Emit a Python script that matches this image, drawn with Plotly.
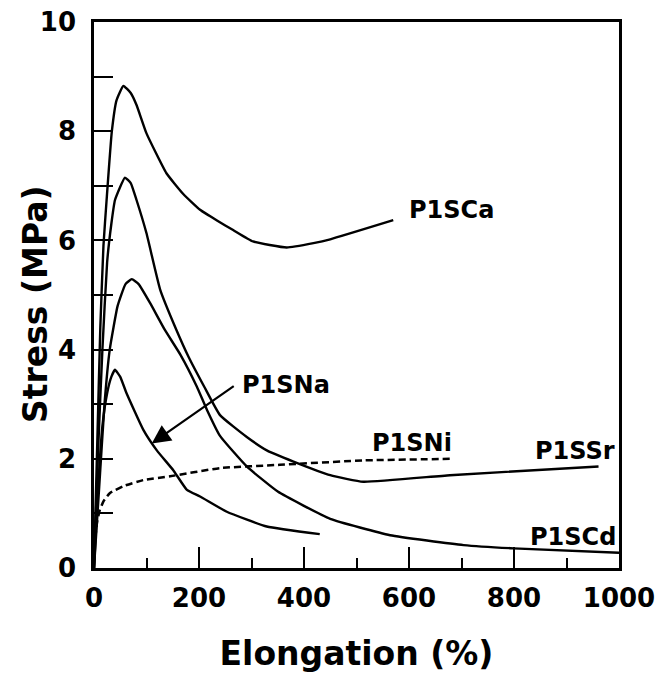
import plotly.graph_objects as go

# ---- data ----
sca_x = [0, 6, 12, 18, 24, 34, 43, 56, 70, 81, 100, 138, 170, 202, 235, 265, 303, 367, 418, 450, 570]
sca_y = [0, 2.2, 4.4, 5.9, 6.74, 8.0, 8.57, 8.83, 8.7, 8.48, 7.96, 7.23, 6.85, 6.56, 6.36, 6.19, 5.98, 5.87, 5.95, 6.02, 6.37]

ssr_x = [0, 8, 16, 25, 33, 40, 59, 70, 81, 100, 126, 157, 180, 210, 240, 291, 330, 380, 450, 513, 678, 961]
ssr_y = [0, 2.2, 4.0, 5.6, 6.3, 6.74, 7.15, 7.05, 6.74, 6.13, 5.1, 4.36, 3.87, 3.32, 2.80, 2.40, 2.15, 1.95, 1.70, 1.58, 1.70, 1.86]

scd_x = [0, 10, 20, 30, 45, 60, 72, 85, 107, 135, 165, 196, 215, 240, 291, 350, 450, 564, 704, 799, 1000]
scd_y = [0, 1.5, 3.0, 4.0, 4.8, 5.2, 5.29, 5.2, 4.85, 4.36, 3.90, 3.32, 2.90, 2.42, 1.86, 1.4, 0.9, 0.6, 0.42, 0.36, 0.28]

sna_x = [0, 8, 16, 25, 33, 40, 50, 62, 94, 120, 151, 177, 202, 253, 329, 430]
sna_y = [0, 1.5, 2.6, 3.2, 3.5, 3.63, 3.5, 3.2, 2.53, 2.15, 1.79, 1.43, 1.31, 1.03, 0.76, 0.62]

sni_x = [0, 3, 6, 11, 18, 30, 56, 94, 145, 240, 354, 513, 685]
sni_y = [0.35, 0.6, 0.85, 1.06, 1.22, 1.37, 1.5, 1.61, 1.68, 1.83, 1.89, 1.97, 2.0]

x_ticks = [0, 200, 400, 600, 800, 1000]
y_ticks = [0, 2, 4, 6, 8, 10]

labels = ["P1SCa", "P1SNa", "P1SNi", "P1SSr", "P1SCd"]
label_x = [596, 278, 526, 836, 827]
label_y = [6.56, 3.35, 2.29, 2.14, 0.57]

x_title = "Elongation (%)"
y_title = "Stress (MPa)"

FONT = "DejaVu Sans"

fig = go.Figure()
for xs, ys in [(sca_x, sca_y), (ssr_x, ssr_y), (scd_x, scd_y), (sna_x, sna_y)]:
    fig.add_trace(go.Scatter(x=xs, y=ys, mode="lines",
                             line=dict(color="black", width=2.4, shape="spline", smoothing=0.4),
                             hoverinfo="skip"))
fig.add_trace(go.Scatter(x=sni_x, y=sni_y, mode="lines",
                         line=dict(color="black", width=2.5, dash="7px,4px", shape="spline", smoothing=0.4),
                         hoverinfo="skip"))

for t, lx, ly in zip(labels, label_x, label_y):
    fig.add_annotation(x=lx, y=ly, text=t, showarrow=False, xanchor="left", yanchor="middle",
                       font=dict(family=FONT, size=24, color="black", weight="bold"))

# arrow for P1SNa
fig.add_annotation(x=110, y=2.28, ax=269, ay=3.35, axref="x", ayref="y", xref="x", yref="y",
                   text="", showarrow=True, arrowhead=2, arrowsize=1.7, arrowwidth=2.2, arrowcolor="black")

# y-axis title as rotated annotation (positioned like the reference)
fig.add_annotation(x=-0.111, y=0.483, xref="paper", yref="paper", text=y_title, textangle=-90,
                   showarrow=False, xanchor="center", yanchor="middle",
                   font=dict(family=FONT, size=33, color="black", weight="bold"))

axis_common = dict(showline=True, linecolor="black", linewidth=2.5, mirror=True, showgrid=False,
                   zeroline=False, ticks="inside", tickcolor="black", tickwidth=2.2, automargin=False,
                   tickfont=dict(family=FONT, size=26, color="black", weight="bold"))

fig.update_xaxes(range=[0, 1000], tickvals=x_ticks, ticklen=21, ticklabelstandoff=5,
                 minor=dict(dtick=100, ticks="inside", ticklen=10, tickwidth=2.2, tickcolor="black"),
                 title=dict(text=x_title, font=dict(family=FONT, size=33, color="black", weight="bold"),
                            standoff=30),
                 **axis_common)
fig.update_yaxes(range=[0, 10], tickvals=y_ticks, ticklen=19, ticklabelstandoff=10,
                 minor=dict(dtick=1, ticks="inside", ticklen=19, tickwidth=2.2, tickcolor="black"),
                 **axis_common)

fig.update_layout(width=657, height=682, margin=dict(l=94, r=38, t=22, b=114),
                  paper_bgcolor="white", plot_bgcolor="white", showlegend=False)

fig.write_html("out.html", config={"displayModeBar": False},
               post_script="document.body.style.margin='0px';")
